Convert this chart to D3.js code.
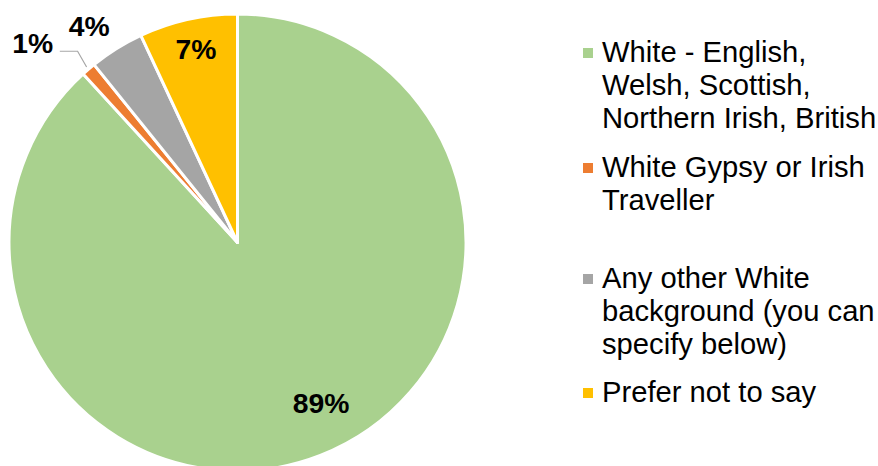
<!DOCTYPE html>
<html>
<head>
<meta charset="utf-8">
<script src="https://cdn.jsdelivr.net/npm/d3@7"></script>
<style>
  html, body { margin: 0; padding: 0; background: #fff; }
  svg { display: block; }
</style>
</head>
<body>
<svg id="chart" width="878" height="466"></svg>
<script>
// ---- data ----
const categories = [
  "White - English, Welsh, Scottish, Northern Irish, British",
  "White Gypsy or Irish Traveller",
  "Any other White background (you can specify below)",
  "Prefer not to say"
];
const values = [88.2, 1.0, 3.85, 6.95];
const valueLabels = ["89%", "1%", "4%", "7%"];
const colors = ["#A9D18E", "#ED7D31", "#A5A5A5", "#FFC000"];
const legendLines = [
  ["White - English,", "Welsh, Scottish,", "Northern Irish, British"],
  ["White Gypsy or Irish", "Traveller"],
  ["Any other White", "background (you can", "specify below)"],
  ["Prefer not to say"]
];

// ---- layout ----
const W = 878, H = 466;
const cx = 237.5, cy = 242.5, R = 228.5;
// label placement: [angle in degrees clockwise from top, radius]
const labelPolar = [[152.5, 181], [314.3, 286], [325.6, 262.5], [347.9, 198]];
const legendX = 583, legendTextX = 602, lineH = 33.2;
const legendFirstBaseline = [62, 177, 288, 402];
const fontFamily = "'Liberation Sans', Arial, sans-serif";

const svg = d3.select("#chart");
const g = svg.append("g").attr("transform", `translate(${cx},${cy})`);

const pie = d3.pie().sort(null).value(d => d)
  .startAngle(0).endAngle(2 * Math.PI);
const arcs = pie(values);
const arc = d3.arc().innerRadius(0).outerRadius(R);

g.selectAll("path.slice")
  .data(arcs)
  .join("path")
  .attr("class", "slice")
  .attr("d", arc)
  .attr("fill", (d, i) => colors[i])
  .attr("stroke", "#fff")
  .attr("stroke-width", 3)
  .attr("stroke-linejoin", "round");

// leader line for the small orange slice
const o = arcs[1];
const midA = (o.startAngle + o.endAngle) / 2;
const p0 = [Math.sin(midA) * (R + 3), -Math.cos(midA) * (R + 3)];
const lp = labelPolar[1];
const la = lp[0] * Math.PI / 180;
const lx = Math.sin(la) * lp[1], ly = -Math.cos(la) * lp[1];
const elbowY = ly + 8.5;
const p1 = [p0[0] - 9, elbowY];
const p2 = [lx + 27, elbowY];
g.append("path")
  .attr("d", d3.line()([p0, p1, p2]))
  .attr("fill", "none")
  .attr("stroke", "#A6A6A6")
  .attr("stroke-width", 1.2);

// value labels
g.selectAll("text.val")
  .data(arcs)
  .join("text")
  .attr("class", "val")
  .attr("x", (d, i) => Math.sin(labelPolar[i][0] * Math.PI / 180) * labelPolar[i][1])
  .attr("y", (d, i) => -Math.cos(labelPolar[i][0] * Math.PI / 180) * labelPolar[i][1] + 10)
  .attr("text-anchor", "middle")
  .attr("font-family", fontFamily)
  .attr("font-weight", "bold")
  .attr("font-size", "28.3px")
  .attr("fill", "#000")
  .text((d, i) => valueLabels[i]);

// legend
const leg = svg.append("g");
categories.forEach((c, i) => {
  const y0 = legendFirstBaseline[i];
  leg.append("rect")
    .attr("x", legendX)
    .attr("y", y0 - 14)
    .attr("width", 10)
    .attr("height", 10)
    .attr("fill", colors[i]);
  const t = leg.append("text")
    .attr("font-family", fontFamily)
    .attr("font-size", "29.2px")
    .attr("fill", "#000");
  legendLines[i].forEach((line, j) => {
    t.append("tspan")
      .attr("x", legendTextX)
      .attr("y", y0 + j * lineH)
      .text(line);
  });
});
</script>
</body>
</html>
